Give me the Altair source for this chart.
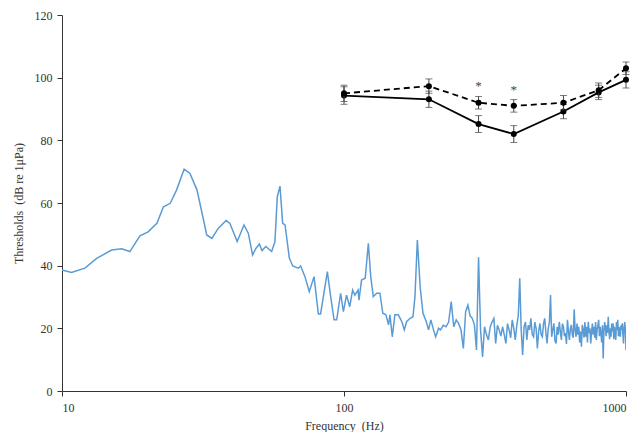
import altair as alt
import pandas as pd

# Background noise spectrum (blue) - low/mid frequency part
noise_freq_low = [10, 10.8, 12.06, 13.27, 15.0, 16.28, 17.4, 18.9, 20.2, 21.7, 22.9, 24.2, 25.5, 27.1, 28.4,
                  30.1, 31.3, 32.6, 34.0, 35.8, 38.2, 39.4, 41.8, 44.2, 45.8, 47.4, 48.7, 50.1, 51.2, 52.8,
                  55.4, 56.9, 58.0, 59.3, 60.6, 61.8, 64.0, 65.8, 68.9, 70.2, 72.7, 75.3, 78.3, 81.1, 82.6,
                  87.3, 89.7, 92.2, 94.2, 97.3, 99.5, 102.1, 104.8, 107.3, 109.3, 112.2, 113.0, 115.4, 118.9,
                  122.0, 124.4, 127.0, 130.6, 134.1, 137.3, 140.8, 143.9, 145.5, 148.3, 151.5, 155.8, 160.4,
                  163.6, 166.7, 171.6, 175.6, 178.5, 182.0, 186.4, 190.6, 195.8, 199.4, 203.3, 207.7, 211.4,
                  216.4]
noise_db_low = [38.6, 37.8, 39.2, 42.3, 45.0, 45.4, 44.5, 49.5, 50.8, 53.5, 58.8, 59.9, 64.2, 70.8, 69.5,
                64.2, 57.2, 49.8, 48.7, 51.9, 54.4, 53.5, 47.7, 53.0, 50.3, 43.4, 45.5, 46.9, 44.8, 46.1,
                44.5, 47.7, 62.0, 65.4, 53.5, 53.0, 42.4, 39.9, 39.2, 39.9, 36.5, 31.7, 36.5, 24.6, 24.6,
                38.1, 30.1, 22.7, 22.7, 31.2, 25.3, 30.6, 26.9, 32.2, 30.6, 32.2, 29.0, 35.4, 36.0,
                47.1, 36.5, 30.1, 31.2, 31.2, 24.8, 24.3, 21.1, 24.3, 17.3, 24.3, 24.3, 22.1,
                19.5, 22.1, 23.2, 23.7, 30.1, 48.2, 32.8, 24.8, 22.1, 19.5, 22.7, 19.5, 17.3,
                20.0]

# High frequency part (5 Hz bins, 220-1000 Hz)
noise_freq_high = [220, 225, 230, 235, 240, 245, 250, 255, 260, 265,
                   270, 275, 280, 285, 290, 295, 300, 305, 310, 315,
                   320, 325, 330, 335, 340, 345, 350, 355, 360, 365,
                   370, 375, 380, 385, 390, 395, 400, 405, 410, 415,
                   420, 425, 430, 435, 440, 445, 450, 455, 460, 465,
                   470, 475, 480, 485, 490, 495, 500, 505, 510, 515,
                   520, 525, 530, 535, 540, 545, 550, 555, 560, 565,
                   570, 575, 580, 585, 590, 595, 600, 605, 610, 615,
                   620, 625, 630, 635, 640, 645, 650, 655, 660, 665,
                   670, 675, 680, 685, 690, 695, 700, 705, 710, 715,
                   720, 725, 730, 735, 740, 745, 750, 755, 760, 765,
                   770, 775, 780, 785, 790, 795, 800, 805, 810, 815,
                   820, 825, 830, 835, 840, 845, 850, 855, 860, 865,
                   870, 875, 880, 885, 890, 895, 900, 905, 910, 915,
                   920, 925, 930, 935, 940, 945, 950, 955, 960, 965,
                   970, 975, 980, 985, 990, 995, 1000]
noise_db_high = [19.5, 21.0, 20.5, 22.0, 28.5, 20.5, 22.7, 21.5, 19.5, 13.6,
                 25.3, 27.4, 24.0, 23.2, 21.1, 13.1, 42.7, 19.5, 10.9, 20.5,
                 18.0, 16.3, 20.5, 22.0, 23.2, 15.2, 21.0, 19.5, 17.5, 20.5,
                 18.0, 15.2, 21.5, 19.5, 17.0, 22.7, 20.0, 16.3, 21.0, 24.0,
                 36.0, 19.5, 11.5, 20.5, 22.0, 16.3, 21.0, 19.5, 23.2, 18.0,
                 17.3, 22.0, 20.0, 13.6, 19.0, 21.6, 18.0, 17.3, 21.5, 23.2,
                 18.5, 15.2, 20.0, 22.0, 30.6, 17.3, 19.5, 21.6, 16.0, 15.2,
                 20.5, 18.0, 22.1, 19.0, 16.3, 21.5, 20.5, 17.5, 18.5, 15.0,
                 22.7, 19.0, 16.3, 20.0, 21.1, 18.0, 17.0, 26.1, 19.5, 17.3,
                 21.5, 18.0, 20.5, 15.5, 19.0, 14.1, 21.1, 19.5, 17.0, 22.0,
                 17.3, 20.5, 15.5, 22.1, 18.5, 20.0, 15.2, 19.0, 21.5, 18.0,
                 20.5, 17.0, 22.0, 16.3, 19.5, 21.0, 22.7, 17.5, 20.5, 18.4,
                 15.5, 21.0, 10.4, 19.0, 22.0, 20.5, 17.5, 21.0, 18.5, 23.7,
                 19.0, 16.5, 20.0, 17.3, 21.5, 19.0, 21.6, 16.5, 20.5, 18.0,
                 16.3, 22.0, 19.5, 22.7, 17.5, 20.5, 18.0, 17.3, 21.0, 19.5,
                 21.6, 18.0, 15.2, 20.5, 22.0, 19.5, 13.0]

# Thresholds
thr_freq = [100, 200, 300, 400, 600, 800, 1000]
thr_solid = [94.3, 93.1, 85.2, 82.0, 89.2, 95.3, 99.3]
thr_dashed = [95.0, 97.3, 92.0, 91.0, 92.0, 96.0, 103.0]
err_solid = [2.8, 2.6, 2.7, 2.7, 2.3, 2.3, 2.6]
err_dashed = [2.6, 2.3, 2.0, 2.0, 2.3, 2.3, 2.0]

star_freq = [300, 400]
star_db = [97.2, 96.2]

noise = pd.DataFrame({"f": noise_freq_low + noise_freq_high, "db": noise_db_low + noise_db_high})
solid = pd.DataFrame({"f": thr_freq, "db": thr_solid,
                      "lo": [v - e for v, e in zip(thr_solid, err_solid)],
                      "hi": [v + e for v, e in zip(thr_solid, err_solid)]})
dashed = pd.DataFrame({"f": thr_freq, "db": thr_dashed,
                       "lo": [v - e for v, e in zip(thr_dashed, err_dashed)],
                       "hi": [v + e for v, e in zip(thr_dashed, err_dashed)]})
stars = pd.DataFrame({"f": star_freq, "db": star_db, "t": ["*", "*"]})

FONT = "Liberation Serif"

xscale = alt.Scale(type="log", domain=[10, 1000])
yscale = alt.Scale(domain=[0, 120])

x_ax = alt.X("f:Q", scale=xscale,
             axis=alt.Axis(values=[10, 100, 1000], format="d", title="Frequency\u00a0\u00a0(Hz)",
                           grid=False, tickSize=5, labelPadding=6, titlePadding=7))
y_ax = alt.Y("db:Q", scale=yscale,
             axis=alt.Axis(values=[0, 20, 40, 60, 80, 100, 120], title="Thresholds\u00a0\u00a0(dB re 1μPa)",
                           grid=False, tickSize=5, labelPadding=5, titlePadding=9))

noise_line = alt.Chart(noise).mark_line(color="#5B9BD5", strokeWidth=1.5, clip=True).encode(x=x_ax, y=y_ax)

def series(df, dash):
    base = alt.Chart(df)
    line_kw = {"color": "black", "strokeWidth": 1.8}
    if dash:
        line_kw["strokeDash"] = [6, 4]
    ln = base.mark_line(**line_kw).encode(x="f:Q", y="db:Q")
    pts = base.mark_circle(color="black", size=36, opacity=1).encode(x="f:Q", y="db:Q")
    rule = base.mark_rule(color="#444444", strokeWidth=1).encode(x="f:Q", y="lo:Q", y2="hi:Q")
    cap_lo = base.mark_tick(color="#444444", orient="horizontal", size=7, thickness=1).encode(x="f:Q", y="lo:Q")
    cap_hi = base.mark_tick(color="#444444", orient="horizontal", size=7, thickness=1).encode(x="f:Q", y="hi:Q")
    return [rule, cap_lo, cap_hi, ln, pts]

star_text = alt.Chart(stars).mark_text(font=FONT, fontSize=13, color="#444444", baseline="middle").encode(
    x="f:Q", y="db:Q", text="t:N")

chart = alt.layer(noise_line, *series(solid, False), *series(dashed, True), star_text).properties(
    width=564, height=376,
    autosize=alt.AutoSizeParams(type="none"),
    padding={"left": 54, "top": 7, "right": 5, "bottom": 41},
).configure_view(stroke=None).configure_axis(
    labelFont=FONT, titleFont=FONT, labelFontSize=12, titleFontSize=12,
    labelColor="#333333", titleColor="#333333", titleFontWeight="normal",
    domainColor="#333333", tickColor="#333333",
)

chart.save("out.html", embed_options={"renderer": "svg", "actions": False})
